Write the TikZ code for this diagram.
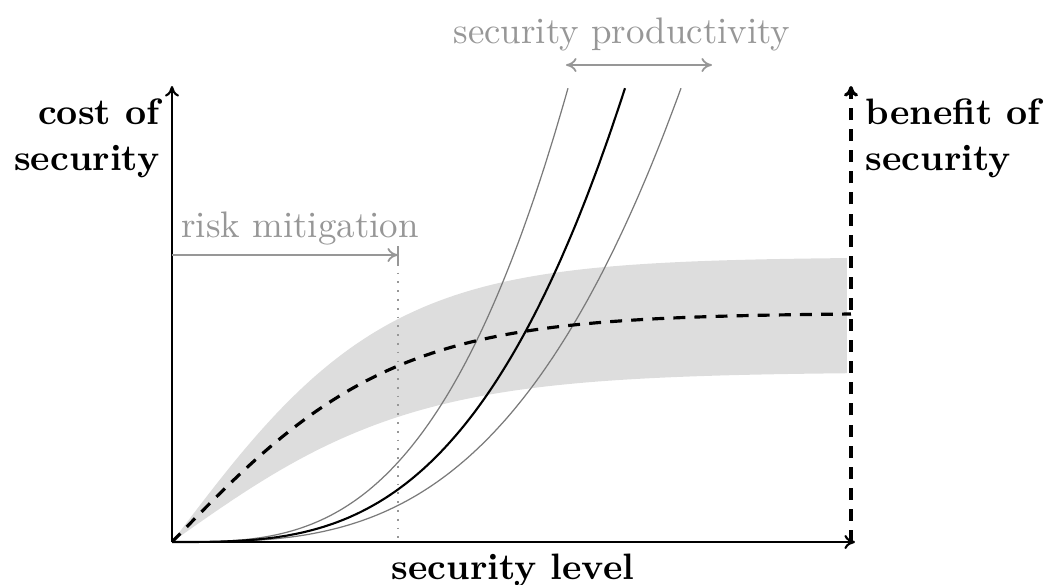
\documentclass[tikz,border=0pt]{standalone}
\usetikzlibrary{arrows.meta}
\definecolor{bandgray}{HTML}{DDDDDD}
\definecolor{txtgray}{HTML}{979797}
\definecolor{curvegray}{HTML}{7A7A7A}
\begin{document}
\begin{tikzpicture}[x=0.01cm,y=-0.01cm,
  axis/.style={line width=0.6pt,-{To[length=3pt,width=4pt]}},
  benefitaxis/.style={line width=0.9pt,dash pattern=on 3.4pt off 2.6pt,-{To[length=3pt,width=4pt]}},
  benefit/.style={line width=0.9pt,dash pattern=on 3.4pt off 2.6pt},
  costmain/.style={line width=0.6pt,black},
  costalt/.style={line width=0.35pt,curvegray},
  graylbl/.style={text=txtgray,font=\fontsize{10.5}{12}\selectfont},
  boldlbl/.style={font=\fontsize{10.45}{13}\selectfont\bfseries,inner sep=0pt},
  grayarrow/.style={line width=0.5pt,txtgray}]
\useasboundingbox (0,0) rectangle (1047,584);
% coordinates
\coordinate (O) at (172,542);
\coordinate (Ytop) at (172,86);
\coordinate (Xend) at (855,542);
\coordinate (R) at (851,542);
\coordinate (Rtop) at (851,86);
\coordinate (RMa) at (172,255);
\coordinate (RMb) at (398,255);
\coordinate (RMt1) at (398,246);
\coordinate (RMt2) at (398,266);
\coordinate (DotBot) at (398,542);
\coordinate (SPa) at (566,65);
\coordinate (SPb) at (712,65);
% band
\fill[bandgray] plot[domain=0:675,samples=120,smooth] ({172+\x},{542-285*tanh(\x/215)})
  -- plot[domain=675:0,samples=120,smooth] ({172+\x},{542-170*tanh(\x/240)}) -- cycle;
% dotted line
\draw[line width=0.5pt,txtgray,dotted] (RMb) -- (DotBot);
% cost curves
\draw[costalt] (O) -- plot[domain=0.5:396,samples=120,smooth] ({172+\x},{542-454*pow(\x/396,3.1)});
\draw[costalt] (O) -- plot[domain=0.5:509,samples=120,smooth] ({172+\x},{542-454*pow(\x/509,3.1)});
\draw[costmain] (O) -- plot[domain=0.5:453,samples=120,smooth] ({172+\x},{542-454*pow(\x/453,3.1)});
% benefit curve
\draw[benefit] plot[domain=0:679,samples=120,smooth] ({172+\x},{542-229*tanh(\x/222)});
% axes
\draw[axis] (O) -- (Ytop);
\draw[axis] (O) -- (Xend);
\draw[benefitaxis] (R) -- (Rtop);
% risk mitigation
\draw[grayarrow,-{To[length=3pt,width=4pt]}] (RMa) -- (RMb);
\draw[grayarrow] (RMt1) -- (RMt2);
\node[graylbl] (rm) at (300,228) {risk mitigation};
% security productivity
\draw[grayarrow,{To[length=3pt,width=4pt]}-{To[length=3pt,width=4pt]}] (SPa) -- (SPb);
\node[graylbl] (sp) at (622,34) {security productivity};
% labels
\node[boldlbl,align=right,anchor=east] (cost) at (160,138) {cost of\\security};
\node[boldlbl,align=left,anchor=west] (ben) at (865,138) {benefit of\\security};
\node[boldlbl] (sl) at (513,570) {security level};
\end{tikzpicture}
\end{document}
